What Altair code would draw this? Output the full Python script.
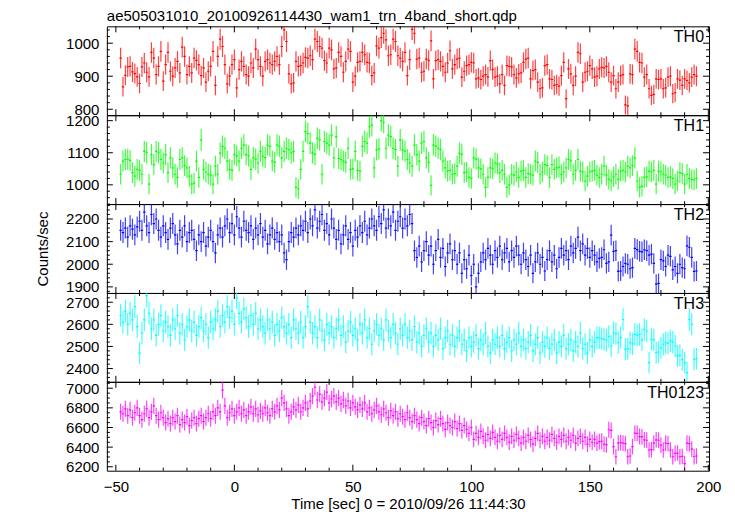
import altair as alt
import pandas as pd

FONT = "Liberation Sans"

TIMES = list(range(-48, 196))

TH0 = [
    955, 868, 903, 928, 930, 913, 908, 898, 878, 928,
    940, 912, 898, 972, 955, 905, 930, 975, 885, 935,
    972, 915, 900, 925, 945, 910, 988, 960, 905, 930,
    910, 955, 948, 935, 902, 925, 882, 915, 930, 975,
    872, 960, 1012, 990, 935, 877, 900, 935, 950, 865,
    920, 945, 930, 905, 900, 940, 925, 982, 950, 930,
    900, 945, 950, 940, 935, 945, 960, 935, 990, 1040,
    1005, 907, 877, 880, 945, 930, 932, 940, 957, 955,
    962, 950, 1012, 1005, 990, 985, 947, 940, 985, 980,
    922, 925, 972, 960, 912, 945, 982, 975, 882, 900,
    942, 945, 972, 965, 942, 940, 902, 910, 992, 985,
    1017, 1030, 1010, 962, 965, 1012, 1005, 962, 955, 945,
    972, 902, 950, 1042, 1030, 952, 955, 912, 915, 952,
    948, 1007, 892, 947, 950, 945, 930, 912, 940, 977,
    922, 935, 952, 955, 897, 915, 932, 935, 942, 940,
    892, 895, 890, 900, 905, 898, 947, 920, 897, 900,
    877, 905, 872, 932, 930, 928, 905, 895, 907, 910,
    942, 952, 955, 892, 917, 920, 882, 862, 865, 932,
    935, 892, 890, 872, 875, 870, 902, 942, 832, 922,
    907, 872, 900, 972, 968, 882, 912, 915, 932, 922,
    897, 900, 922, 927, 925, 930, 912, 882, 902, 862,
    882, 902, 905, 813, 810, 907, 905, 982, 975, 942,
    940, 897, 905, 862, 842, 845, 892, 890, 892, 862,
    865, 897, 900, 847, 850, 892, 888, 872, 892, 887,
    880, 897, 905, 900,
]

TH1 = [
    1033, 1074, 1079, 1080, 1076, 1038, 1027, 1048, 1045, 1033,
    1104, 1100, 1002, 1094, 1063, 1104, 1100, 1079, 1068, 1094,
    1038, 1084, 1053, 1033, 1023, 1079, 1084, 1060, 1053, 1027,
    1002, 1005, 1074, 1023, 1140, 1048, 1040, 1033, 1030, 1002,
    1058, 1033, 1099, 1120, 1114, 1074, 1048, 1045, 1094, 1090,
    1074, 1114, 1124, 1094, 1090, 1048, 1084, 1080, 1068, 1104,
    1089, 1085, 1124, 1120, 1074, 1070, 1124, 1120, 1084, 1104,
    1114, 1110, 1100, 1104, 992, 987, 1048, 1104, 1166, 1160,
    1130, 1099, 1095, 1145, 1140, 1033, 1135, 1130, 1124, 1155,
    1084, 1150, 1082, 1079, 1074, 1070, 1114, 1048, 1050, 1104,
    1045, 1043, 1120, 1135, 1130, 1181, 1186, 1053, 1109, 1112,
    1200, 1195, 1114, 1155, 1150, 1114, 1110, 1058, 1140, 1109,
    1105, 1079, 1068, 1058, 1124, 1094, 1074, 1130, 1135, 1084,
    1070, 998, 1124, 1120, 1114, 1110, 1074, 1053, 1043, 1045,
    1033, 1035, 1058, 1099, 1095, 1038, 1040, 1023, 1020, 1084,
    1080, 1053, 1050, 1033, 992, 1023, 1053, 1050, 1068, 1065,
    1038, 1045, 1033, 992, 1000, 1033, 1030, 1040, 1023, 1043,
    1045, 1023, 1035, 1033, 1030, 1074, 1070, 1033, 1040, 1063,
    1060, 1023, 1063, 1048, 1053, 1055, 1033, 1040, 1053, 1079,
    1075, 1033, 1045, 1079, 1043, 1040, 1012, 1027, 1040, 1043,
    1045, 1030, 1023, 1033, 1058, 1030, 1017, 1012, 1025, 1033,
    1017, 1043, 1045, 1040, 1058, 1053, 1060, 1084, 1012, 992,
    995, 1023, 1025, 1043, 1040, 1045, 1002, 1043, 1040, 1033,
    1030, 1023, 1025, 1020, 1002, 1012, 1038, 1035, 1002, 1033,
    1020, 1017, 1015, 1020,
]

TH2 = [
    2150, 2140, 2160, 2120, 2170, 2155, 2130, 2165, 2190, 2150,
    2230, 2170, 2140, 2220, 2180, 2200, 2150, 2120, 2170, 2140,
    2110, 2160, 2180, 2130, 2090, 2150, 2120, 2170, 2100, 2140,
    2150, 2110, 2060, 2130, 2100, 2140, 2080, 2120, 2150, 2100,
    2050, 2130, 2160, 2120, 2170, 2200, 2140, 2180, 2130, 2210,
    2160, 2120, 2190, 2150, 2140, 2170, 2110, 2160, 2130, 2180,
    2120, 2150, 2090, 2130, 2160, 2110, 2140, 2100, 2130, 2050,
    2020, 2100, 2140, 2120, 2160, 2130, 2170, 2150, 2190, 2140,
    2200, 2170, 2240, 2160, 2190, 2220, 2150, 2180, 2130, 2200,
    2160, 2110, 2150, 2090, 2130, 2170, 2110, 2140, 2080, 2150,
    2120, 2170, 2140, 2190, 2130, 2160, 2200, 2170, 2150, 2210,
    2180, 2240, 2160, 2200, 2170, 2230, 2150, 2190, 2210, 2160,
    2200, 2170, 2220, 2180, 2060, 2030, 2080, 2010, 2060, 2100,
    2040, 2080, 2000, 2060, 2110, 2030, 2070, 1990, 2050, 2090,
    2020, 2060, 2000, 2050, 1960, 2020, 1980, 2040, 1950, 2000,
    1900, 1960, 2010, 2050, 2020, 2070, 2040, 2000, 2060, 2030,
    2080, 2020, 2050, 2070, 2010, 2060, 2030, 2080, 2040, 2000,
    2050, 2020, 1990, 2040, 1960, 2010, 2050, 2000, 2030, 1970,
    2020, 2060, 2010, 2040, 1980, 2030, 2070, 2040, 2060, 2020,
    2080, 2050, 2070, 2120, 2060, 2090, 2040, 2070, 2030, 2060,
    2040, 2010, 2026, 2030, 2064, 2004, 2010, 2129, 2057, 2060,
    1968, 1970, 1990, 2004, 2000, 1980, 1985, 2070, 2065, 2057,
    2055, 2064, 2060, 2040, 2045, 2004, 1912, 1915, 2020, 2015,
    1990, 2040, 2035, 1975, 1990, 1960, 2000, 1985, 1980, 2081,
    2075, 2030, 1968, 1970,
]

TH3 = [
    2640, 2610, 2660, 2600, 2650, 2620, 2680, 2590, 2470, 2560,
    2620, 2730, 2650, 2580, 2620, 2550, 2600, 2640, 2570, 2610,
    2590, 2550, 2620, 2580, 2640, 2560, 2600, 2530, 2590, 2620,
    2570, 2610, 2550, 2590, 2630, 2570, 2600, 2540, 2610, 2580,
    2620, 2660, 2590, 2640, 2610, 2680, 2630, 2660, 2600, 2720,
    2650, 2610, 2670, 2630, 2590, 2640, 2600, 2650, 2580, 2620,
    2590, 2560, 2620, 2580, 2610, 2550, 2600, 2570, 2630, 2590,
    2560, 2600, 2540, 2620, 2580, 2560, 2610, 2540, 2590, 2680,
    2610, 2560, 2590, 2540, 2620, 2570, 2530, 2600, 2560, 2590,
    2540, 2580, 2620, 2550, 2590, 2520, 2570, 2610, 2550, 2580,
    2530, 2600, 2560, 2620, 2540, 2580, 2510, 2570, 2600, 2550,
    2580, 2530, 2620, 2570, 2540, 2600, 2560, 2510, 2580, 2550,
    2600, 2540, 2570, 2530, 2590, 2520, 2560, 2500, 2550, 2580,
    2520, 2560, 2500, 2550, 2530, 2580, 2490, 2540, 2570, 2510,
    2550, 2500, 2540, 2570, 2510, 2530, 2480, 2540, 2500, 2520,
    2550, 2490, 2530, 2510, 2560, 2500, 2470, 2530, 2510, 2540,
    2500, 2550, 2490, 2520, 2540, 2480, 2530, 2510, 2560, 2500,
    2530, 2490, 2520, 2550, 2480, 2510, 2540, 2470, 2520, 2500,
    2540, 2490, 2510, 2530, 2470, 2520, 2500, 2550, 2490, 2510,
    2530, 2480, 2520, 2500, 2560, 2490, 2510, 2470, 2530, 2500,
    2520, 2540, 2539, 2535, 2532, 2528, 2545, 2502, 2562, 2558,
    2517, 2540, 2622, 2487, 2490, 2517, 2512, 2555, 2550, 2555,
    2530, 2577, 2570, 2427, 2532, 2530, 2472, 2475, 2494, 2510,
    2517, 2515, 2525, 2520, 2502, 2457, 2460, 2440, 2427, 2382,
    2622, 2600, 2442, 2445,
]

TH0123 = [
    6760, 6740, 6790, 6720, 6780, 6700, 6750, 6800, 6720, 6680,
    6740, 6790, 6700, 6760, 6820, 6720, 6680, 6750, 6700, 6650,
    6690, 6640, 6700, 6660, 6720, 6630, 6680, 6650, 6710, 6620,
    6670, 6700, 6640, 6690, 6720, 6660, 6700, 6740, 6690, 6760,
    6720, 6800, 6760, 6980, 6820, 6700, 6750, 6790, 6720, 6760,
    6800, 6740, 6780, 6720, 6760, 6810, 6740, 6790, 6730, 6770,
    6740, 6800, 6750, 6720, 6790, 6760, 6820, 6780, 6900, 6850,
    6790, 6720, 6760, 6810, 6780, 6830, 6760, 6800, 6850, 6790,
    6870, 6920, 7010, 6880, 6940, 6860, 6900, 6960, 6850, 6890,
    6920, 6860, 6900, 6840, 6880, 6820, 6870, 6800, 6850, 6810,
    6780, 6830, 6790, 6850, 6760, 6800, 6740, 6780, 6820, 6760,
    6730, 6790, 6750, 6700, 6770, 6720, 6760, 6690, 6740, 6710,
    6680, 6750, 6700, 6660, 6720, 6680, 6640, 6700, 6660, 6620,
    6690, 6650, 6600, 6670, 6630, 6690, 6640, 6580, 6650, 6620,
    6600, 6660, 6590, 6640, 6570, 6620, 6580, 6540, 6600, 6480,
    6540, 6500, 6560, 6510, 6470, 6530, 6490, 6550, 6500, 6460,
    6520, 6480, 6540, 6500, 6450, 6510, 6470, 6530, 6490, 6440,
    6500, 6460, 6520, 6480, 6430, 6490, 6540, 6470, 6510, 6460,
    6500, 6470, 6530, 6490, 6450, 6510, 6480, 6520, 6460, 6500,
    6470, 6520, 6440, 6490, 6510, 6460, 6500, 6430, 6480, 6450,
    6480, 6440, 6457, 6460, 6430, 6423, 6577, 6570, 6405, 6302,
    6440, 6445, 6440, 6435, 6302, 6310, 6405, 6542, 6540, 6508,
    6505, 6474, 6470, 6371, 6375, 6440, 6474, 6470, 6420, 6371,
    6440, 6435, 6371, 6302, 6336, 6340, 6302, 6305, 6233, 6440,
    6435, 6380, 6302, 6310,
]

TITLE = "ae505031010_20100926114430_wam1_trn_4band_short.qdp"
X_TITLE = "Time [sec] 0 = 2010/09/26 11:44:30"
Y_TITLE = "Counts/sec"

X_DOMAIN = [-53.8, 200.3]
X_MAJOR = [-50, 0, 50, 100, 150, 200]
X_MINOR = [v for v in range(-50, 201, 10) if v % 50 != 0]

PANELS = [
    dict(name="TH0", vals=TH0, color="#ff0000", dom=[782, 1051], major=[800, 900, 1000], minor=20),
    dict(name="TH1", vals=TH1, color="#00ff00", dom=[940, 1217], major=[1000, 1100, 1200], minor=20),
    dict(name="TH2", vals=TH2, color="#0000ff", dom=[1873, 2266], major=[1900, 2000, 2100, 2200], minor=20),
    dict(name="TH3", vals=TH3, color="#00ffff", dom=[2340, 2742], major=[2400, 2500, 2600, 2700], minor=20),
    dict(name="TH0123", vals=TH0123, color="#ff00ff", dom=[6160, 7065],
         major=[6200, 6400, 6600, 6800, 7000], minor=50),
]

W, H = 603, 89
MAJ_LEN, MIN_LEN = 6, 3


def make_panel(i, p):
    n = len(PANELS)
    bottom = i == n - 1
    xs = alt.Scale(domain=X_DOMAIN, nice=False, zero=False)
    ys = alt.Scale(domain=p["dom"], nice=False, zero=False)

    if bottom:
        xax = alt.Axis(values=X_MAJOR, format="d", ticks=False, domain=False, grid=False,
                       labelFontSize=15, labelPadding=9, labelFont=FONT, labelColor="black",
                       labelFlush=False, labelOverlap=False, titleFontSize=15, titleFont=FONT,
                       titleFontWeight="normal", titlePadding=2, titleColor="black",
                       title=X_TITLE)
    else:
        xax = alt.Axis(values=X_MAJOR, labels=False, ticks=False, domain=False, grid=False,
                       title="")

    yax = alt.Axis(values=p["major"], format="d", ticks=False, domain=False, grid=False,
                   labelFontSize=15, labelPadding=8, labelFont=FONT, labelColor="black",
                   labelFlush=False, labelOverlap=False, titleFontSize=15, titleFont=FONT,
                   titleFontWeight="normal", titlePadding=15, titleColor="black",
                   title=Y_TITLE if i == 2 else "")

    def X(field):
        return alt.X(field, scale=xs, axis=xax)

    def Y(field):
        return alt.Y(field, scale=ys, axis=yax)

    df = pd.DataFrame({"t": TIMES, "v": p["vals"]})

    err = alt.Chart(df).transform_calculate(
        lo="datum.v - sqrt(datum.v)", hi="datum.v + sqrt(datum.v)"
    ).mark_rule(color=p["color"], strokeWidth=1.2, opacity=0.75, clip=True).encode(
        x=X("t:Q"), y=Y("lo:Q"), y2="hi:Q"
    )
    bins = alt.Chart(df).transform_calculate(
        a="datum.t - 0.5", b="datum.t + 0.5"
    ).mark_rule(color=p["color"], strokeWidth=1.2, clip=True).encode(
        x=X("a:Q"), x2="b:Q", y=Y("v:Q")
    )

    d0, d1 = p["dom"]
    step = p["minor"]
    start = -(-d0 // step) * step
    y_minor = [v for v in range(int(start), int(d1) + 1, step) if v not in p["major"]]

    layers = [err, bins]

    def xt(vals, length, top):
        y0 = 0 if top else H
        y1 = length if top else H - length
        return alt.Chart(pd.DataFrame({"v": vals})).mark_rule(color="black", strokeWidth=1).encode(
            x=X("v:Q"), y=alt.value(y0), y2=alt.value(y1))

    def yt(vals, length, left):
        x0 = 0 if left else W
        x1 = length if left else W - length
        return alt.Chart(pd.DataFrame({"v": vals})).mark_rule(color="black", strokeWidth=1).encode(
            y=Y("v:Q"), x=alt.value(x0), x2=alt.value(x1))

    for top in (True, False):
        layers.append(xt(X_MAJOR, MAJ_LEN, top))
        layers.append(xt(X_MINOR, MIN_LEN, top))
    for left in (True, False):
        layers.append(yt(p["major"], MAJ_LEN, left))
        layers.append(yt(y_minor, MIN_LEN, left))

    lab = alt.Chart(pd.DataFrame({"name": [p["name"]]})).mark_text(
        align="right", baseline="middle", fontSize=16, font=FONT, color="black"
    ).encode(x=alt.value(W - 5), y=alt.value(11), text="name:N")
    layers.append(lab)

    ch = alt.layer(*layers)
    if i == 0:
        ch = ch.properties(width=W, height=H, title=alt.TitleParams(
            text=TITLE, anchor="start", frame="group", fontSize=15, font=FONT,
            fontWeight="normal", color="black", offset=2))
    else:
        ch = ch.properties(width=W, height=H)
    return ch


charts = [make_panel(i, p) for i, p in enumerate(PANELS)]

chart = alt.vconcat(*charts, spacing=0, bounds="flush").properties(
    padding={"left": 27, "top": 0, "right": 5, "bottom": 0}
).configure_view(stroke="black", strokeWidth=1).configure_axis(labelOverlap=False)

chart.save("out.html", embed_options={"renderer": "svg", "actions": False})
